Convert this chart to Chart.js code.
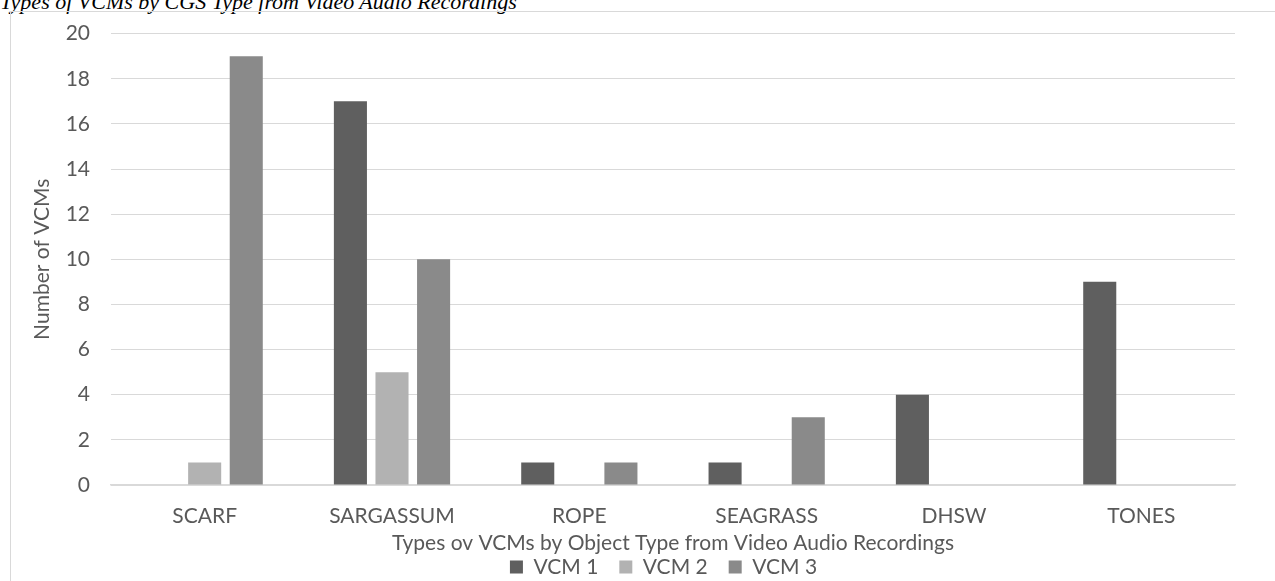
<!DOCTYPE html>
<html>
<head>
<meta charset="utf-8">
<script src="https://cdn.jsdelivr.net/npm/chart.js@4"></script>
<style>
  body { margin: 0; background: #fff; overflow: hidden; }
  #title {
    position: absolute; left: 0; top: -11px; line-height: 22px;
    font: italic 22px "Liberation Serif", "Times New Roman", serif;
    color: #000; white-space: nowrap;
  }
  #box {
    position: absolute; left: 10px; top: 11px; width: 1280px; height: 580px;
    border: 1px solid #d9d9d9; box-sizing: border-box;
  }
  #wrap { position: absolute; left: 0; top: 0; width: 1275px; height: 581px; }
</style>
</head>
<body>
<div id="title">Types of VCMs by CGS Type from Video Audio Recordings</div>
<div id="box"></div>
<div id="wrap"><canvas id="myChart"></canvas></div>
<script>
// categorie e serie
const categories = ["SCARF", "SARGASSUM", "ROPE", "SEAGRASS", "DHSW", "TONES"];
const vcm1 = [0, 17, 1, 1, 4, 9];
const vcm2 = [1, 5, 0, 0, 0, 0];
const vcm3 = [19, 10, 1, 3, 0, 0];
const yTicks = [0, 2, 4, 6, 8, 10, 12, 14, 16, 18, 20];

const textGray = "#595959";
const font = { family: "Lato, 'Open Sans', sans-serif", size: 21 };

const ctx = document.getElementById("myChart").getContext("2d");

// sposto la legenda verso il centro dell'area del grafico
const shiftLegend = {
    id: "shiftLegend",
    afterLayout(chart) {
        chart.legend.left += 46;
        chart.legend.right += 46;
    },
};

const myChart = new Chart(ctx, {
    type: "bar",
    data: {
        labels: categories,
        datasets: [
            { label: "VCM 1", data: vcm1, backgroundColor: "#5f5f5f" },
            { label: "VCM 2", data: vcm2, backgroundColor: "#b2b2b2" },
            { label: "VCM 3", data: vcm3, backgroundColor: "#8a8a8a" },
        ],
    },
    plugins: [shiftLegend],
    options: {
        responsive: true,
        maintainAspectRatio: false,
        animation: false,
        datasets: { bar: { categoryPercentage: 0.666, barPercentage: 0.795 } },
        layout: { padding: { top: 32, right: 40, left: 0, bottom: -6.5 } },
        plugins: {
            tooltip: { enabled: false },
            legend: {
                position: "bottom",
                labels: {
                    color: textGray, font: font,
                    boxWidth: 13, boxHeight: 13, padding: 21,
                },
            },
        },
        scales: {
            x: {
                afterFit: (scale) => { scale.height = 50.5; },
                grid: { display: false },
                border: { color: "#d9d9d9", width: 1.5 },
                ticks: { color: textGray, font: font, padding: 11 },
                title: {
                    display: true,
                    text: "Types ov VCMs by Object Type from Video Audio Recordings",
                    color: textGray, font: font, padding: { top: -20, bottom: -20 },
                },
            },
            y: {
                min: 0, max: 20,
                afterBuildTicks: (scale) => { scale.ticks = yTicks.map((v) => ({ value: v })); },
                afterFit: (scale) => { scale.width = 111; },
                grid: { color: "#d9d9d9", drawTicks: false },
                border: { display: false },
                ticks: { color: textGray, font: font, padding: 21 },
                title: {
                    display: true, text: "Number of VCMs",
                    color: textGray, font: font, padding: { top: 30, bottom: 0 },
                },
            },
        },
    },
});
</script>
</body>
</html>
